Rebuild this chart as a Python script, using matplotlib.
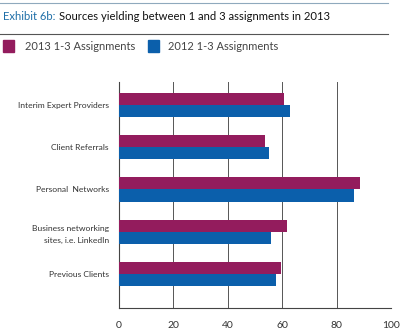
import numpy as np
import matplotlib
matplotlib.use('Agg')
import matplotlib.pyplot as plt
from matplotlib.patches import Rectangle
from matplotlib.lines import Line2D

# data
categories = ['Interim Expert Providers', 'Client Referrals', 'Personal  Networks',
              'Business networking\nsites, i.e. LinkedIn', 'Previous Clients']
vals_2013 = [60.6, 53.7, 88.5, 61.8, 59.5]
vals_2012 = [63.1, 55.2, 86.3, 56.1, 57.9]
xticks = [0, 20, 40, 60, 80, 100]
series_names = ['2013 1-3 Assignments', '2012 1-3 Assignments']

purple = '#931c5d'
blue = '#0b5fab'

plt.rcParams['font.family'] = ['Lato', 'DejaVu Sans']

fig = plt.figure(figsize=(4.0, 3.32), dpi=100)
W, H = 400.0, 332.0

# header lines and title
fig.add_artist(Line2D([0, 388 / W], [1 - 3 / H, 1 - 3 / H], color='#8fa9bd', lw=0.8))
fig.add_artist(Line2D([0, 388 / W], [1 - 34 / H, 1 - 34 / H], color='#555555', lw=0.8))
t1 = fig.text(3 / W, 1 - 16 / H, 'Exhibit 6b:', color='#1f6fa8', fontsize=8.1, va='center')
fig.canvas.draw()
bb = t1.get_window_extent()
fig.text(bb.x1 / W + 3 / W, 1 - 16 / H, 'Sources yielding between 1 and 3 assignments in 2013',
         color='#111111', fontsize=8.1, va='center')

# legend
fig.add_artist(Rectangle((3 / W, 1 - 52 / H), 11 / W, 12 / H, color=purple, transform=fig.transFigure))
fig.text(25 / W, 1 - 46 / H, series_names[0], color='#444444', fontsize=8.0, va='center')
fig.add_artist(Rectangle((148 / W, 1 - 52 / H), 11 / W, 12 / H, color=blue, transform=fig.transFigure))
fig.text(168 / W, 1 - 46 / H, series_names[1], color='#444444', fontsize=8.0, va='center')

ax = fig.add_axes([118.5 / W, 1 - 308 / H, (391 - 118.5) / W, (308 - 82) / H])
y = np.arange(len(categories))
h = 0.29
ax.barh(y - h / 2, vals_2013, height=h, color=purple, zorder=3)
ax.barh(y + h / 2, vals_2012, height=h, color=blue, zorder=3)

ax.set_xlim(0, 100)
ax.set_ylim(4.8, -0.54)
ax.set_xticks(xticks)
ax.set_xticklabels([str(v) for v in xticks], fontsize=7.5, color='#333333')
ax.set_yticks(y)
ax.set_yticklabels(categories, fontsize=6.1, color='#333333', linespacing=1.7)
ax.tick_params(axis='both', length=0, pad=9)
ax.tick_params(axis='y', pad=7)
ax.grid(axis='x', color='#555555', lw=0.7, zorder=0)
for s in ['top', 'right']:
    ax.spines[s].set_visible(False)
ax.spines['left'].set_color('#444444')
ax.spines['bottom'].set_color('#444444')
ax.spines['left'].set_linewidth(0.8)
ax.spines['bottom'].set_linewidth(0.8)

fig.savefig('out.png', dpi=100)
